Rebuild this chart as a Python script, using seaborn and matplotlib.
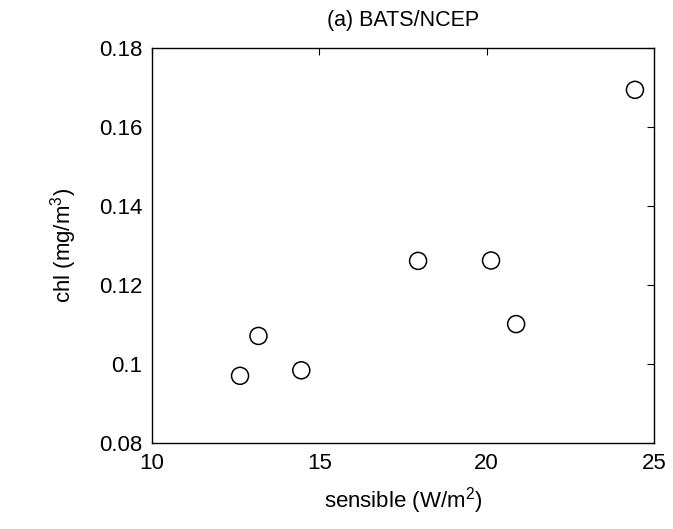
import matplotlib
matplotlib.use("Agg")
import matplotlib.pyplot as plt
import seaborn as sns
import pandas as pd

sensible = [12.63, 13.18, 14.46, 17.95, 20.13, 20.88, 24.43]
chl = [0.0970, 0.1071, 0.0984, 0.1261, 0.1262, 0.1101, 0.1694]
xticks = [10, 15, 20, 25]
yticks = [0.08, 0.10, 0.12, 0.14, 0.16, 0.18]
ytick_labels = ["0.08", "0.1", "0.12", "0.14", "0.16", "0.18"]

sns.set_theme(style="white")
plt.rcParams['font.family'] = ['Liberation Sans', 'DejaVu Sans']
plt.rcParams['mathtext.fontset'] = 'custom'
plt.rcParams['mathtext.rm'] = 'Liberation Sans'
plt.rcParams['mathtext.it'] = 'Liberation Sans:italic'
plt.rcParams['text.color'] = 'black'
plt.rcParams['axes.labelcolor'] = 'black'

df = pd.DataFrame({"sensible": sensible, "chl": chl})

fig = plt.figure(figsize=(6.73, 5.29), dpi=100)
ax = fig.add_axes([0.2259, 0.1626, 0.9718 - 0.2259, 0.9093 - 0.1626])
sns.scatterplot(data=df, x="sensible", y="chl", ax=ax, s=150,
                facecolors="none", edgecolor="black", linewidth=1.1, marker="o")
ax.set_xlim(10, 25)
ax.set_ylim(0.08, 0.18)
ax.set_xticks(xticks)
ax.set_yticks(yticks)
ax.set_yticklabels(ytick_labels)
ax.tick_params(direction="in", length=5, width=0.8, labelsize=16, colors="black",
               top=True, right=True, pad=7)
for sp in ax.spines.values():
    sp.set_visible(True)
    sp.set_color("black")
    sp.set_linewidth(1.0)
ax.set_xlabel(r"sensible (W/m$^2$)", fontsize=16, labelpad=8, color="black")
ax.set_ylabel(r"chl (mg/m$^3$)", fontsize=16, labelpad=14, color="black")
ax.set_title("(a) BATS/NCEP", fontsize=15.5, pad=16, color="black")
fig.savefig("out.png", dpi=100, facecolor="white")
